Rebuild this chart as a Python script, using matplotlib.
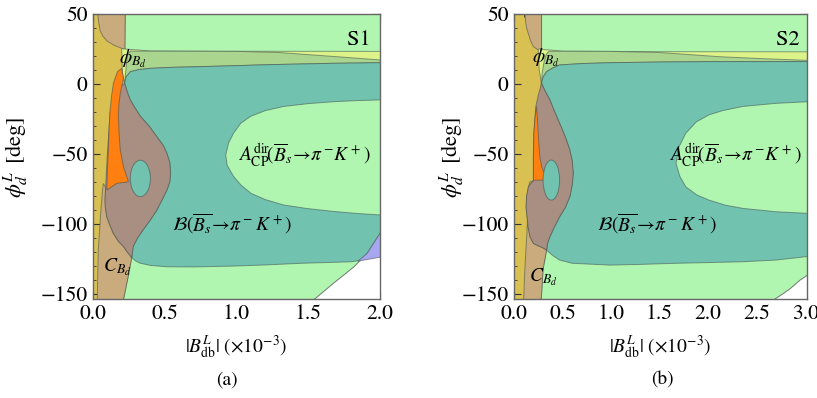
import matplotlib
matplotlib.use("Agg")
import matplotlib.pyplot as plt
from matplotlib.patches import Ellipse
from matplotlib.ticker import MultipleLocator, FormatStrFormatter

plt.rcParams['font.family'] = ['STIXGeneral', 'DejaVu Serif']
plt.rcParams['mathtext.fontset'] = 'stix'

# ---------------- colours ----------------
C_MUSTARD = '#d9c052'
C_GREEN = '#b1f6b0'
C_TAN = '#c9ab7e'
C_YELLOW = '#dcf38a'
C_OLIVE = '#a9d58e'
C_TEAL = '#72c2b0'
C_PURPLE = '#a7a7f0'
C_BROWN = '#a88f82'
C_ORANGE = '#ff8010'
C_WHITE = '#ffffff'
EDGE = (0.25, 0.3, 0.3, 0.55)

# ---------------- panel (a) data ----------------
a_xlim = (0.0, 2.0)
a_green = [(0.225, 55), (0.222, 24), (0.22, 0), (0.25, -60), (0.27, -124), (0.24, -140), (0.2, -160),
           (1.54, -160), (1.54, -154), (1.68, -142), (1.82, -130.5), (1.91, -121), (1.96, -113),
           (2.0, -106.7), (2.05, -99), (2.05, 55)]
a_tan_top = [(0.03, 55), (0.225, 55), (0.222, 24.5), (0.2, 25.5), (0.15, 27.5), (0.1, 30.5),
             (0.07, 34), (0.05, 38), (0.038, 45)]
a_yellow = [(0.2, 25.2), (0.4, 23.6), (1.0, 23.4), (2.05, 23.3), (2.05, 14), (0.22, 0.5), (0.205, 8)]
a_olive_top = [(0.235, 16), (0.24, 21), (0.26, 23.5), (0.6, 23.4), (1.0, 23.3), (1.3, 22.5),
               (1.7, 19.5), (2.05, 16.8)]
a_teal_top = [(0.22, 0.5), (0.23, 5), (0.26, 8.8), (0.32, 10.3), (0.4, 11.2), (0.55, 11.9), (0.75, 12.4),
              (1.0, 13.1), (1.22, 13.8), (1.45, 14.3), (1.68, 14.8), (2.05, 15.3)]
a_teal_bot = [(0.27, -124), (0.3, -126.5), (0.33, -128), (0.4, -129.5), (0.515, -130.5), (0.7, -130.6),
              (0.98, -130), (1.2, -129.2), (1.45, -128), (1.65, -127.4), (1.8, -126.9), (1.9, -125.5),
              (2.05, -122.8)]
a_brown_right = [(0.22, 0.5), (0.24, -6), (0.26, -11.4), (0.295, -17.5), (0.33, -23), (0.39, -30),
                 (0.445, -37.6), (0.49, -44), (0.515, -49.5), (0.535, -56), (0.54, -63.8), (0.535, -70),
                 (0.515, -75.7), (0.485, -82), (0.445, -90), (0.4, -97), (0.35, -104), (0.31, -110),
                 (0.28, -116), (0.27, -124)]
a_brown_left = [(0.27, -124), (0.24, -120), (0.212, -116), (0.175, -112), (0.142, -106.7), (0.115, -100),
                (0.096, -94.8), (0.086, -88), (0.084, -82.9), (0.088, -74), (0.1, -50), (0.12, -20),
                (0.16, -5), (0.2, -1)]
a_white = [(1.54, -160), (1.54, -154), (1.68, -142), (1.82, -130.5), (1.91, -121), (1.96, -113),
           (2.0, -106.7), (2.05, -99), (2.05, -160)]
a_purple = [(1.845, -126.5), (1.91, -121), (1.96, -113), (2.0, -106.7), (2.05, -99), (2.05, -122.8),
            (1.9, -125.5)]
a_hole = [(2.05, -11.2), (1.85, -11.8), (1.68, -12.6), (1.5, -14), (1.33, -16), (1.2, -19), (1.1, -23),
          (1.03, -28), (0.98, -35), (0.945, -42), (0.925, -50.7), (0.935, -58), (0.96, -62.5),
          (0.98, -66), (1.03, -72), (1.1, -78), (1.2, -82.5), (1.33, -86.4), (1.5, -89), (1.68, -91),
          (1.85, -92.5), (2.05, -93.8)]
a_tan_low = [(0.03, -160), (0.2, -160), (0.24, -140), (0.27, -124), (0.24, -120), (0.212, -116),
             (0.175, -112), (0.142, -106.7), (0.115, -100), (0.096, -94.8), (0.086, -88), (0.084, -82.9),
             (0.088, -74), (0.072, -71), (0.066, -76), (0.061, -82.9), (0.055, -90), (0.049, -99.5),
             (0.042, -110), (0.037, -118.6), (0.033, -135), (0.03, -152)]
a_orange = [(0.2, 11.2), (0.212, 4.1), (0.19, -6.6), (0.18, -15), (0.177, -23.4), (0.182, -36),
            (0.19, -47), (0.212, -59), (0.247, -69.8), (0.165, -71), (0.096, -75.7), (0.1, -62),
            (0.107, -47), (0.112, -32), (0.119, -18.6), (0.13, -8), (0.142, 0.5), (0.17, 8.8)]
a_small_hole = (0.33, -67.4, 0.14, 26.0)   # centre x, centre y, width, height

# ---------------- panel (b) data ----------------
b_xlim = (0.0, 3.02)
b_green = [(0.284, 55), (0.284, 24), (0.28, 0), (0.3, -60), (0.336, -118.6), (0.3, -132), (0.275, -160),
           (2.68, -160), (2.68, -154), (2.77, -150), (2.85, -146), (2.95, -140), (3.07, -134.5),
           (3.07, 55)]
b_tan_top = [(0.11, 55), (0.284, 55), (0.284, 24), (0.25, 24.3), (0.2, 26.7), (0.17, 31),
             (0.147, 36.2), (0.13, 40), (0.12, 44)]
b_yellow = [(0.25, 25), (0.5, 23.5), (1.5, 23.1), (3.07, 23.0), (3.07, 14), (0.284, 0.5), (0.26, 10)]
b_olive_top = [(0.29, 8), (0.31, 16), (0.33, 21), (0.36, 23.4), (1.0, 23.3), (1.5, 22.5),
               (2.12, 19.5), (2.6, 18.0), (3.07, 16.8)]
b_teal_top = [(0.284, 0.5), (0.3, 5), (0.336, 8.8), (0.4, 11.5), (0.47, 13.6), (0.7, 14.6), (0.99, 15.2),
              (1.5, 15.7), (2.01, 16), (3.07, 16)]
b_teal_bot = [(0.336, -118.6), (0.4, -122.5), (0.47, -125.7), (0.6, -128), (0.99, -129.3), (1.3, -128.8),
              (1.67, -128), (2.0, -127.5), (2.36, -126.9), (2.7, -125.7), (3.07, -122.8)]
b_brown_right = [(0.284, 0.5), (0.32, -5), (0.37, -11.4), (0.42, -20), (0.47, -28), (0.53, -38),
                 (0.575, -47), (0.6, -55), (0.61, -63.8), (0.6, -72), (0.575, -80.5), (0.53, -88),
                 (0.47, -94.8), (0.41, -103), (0.37, -109), (0.345, -114), (0.336, -118.6)]
b_brown_left = [(0.336, -118.6), (0.3, -117), (0.25, -115.5), (0.2, -113.8), (0.165, -109),
                (0.145, -102), (0.135, -95), (0.125, -88), (0.13, -80), (0.15, -73), (0.2, -69),
                (0.2, -52), (0.205, -35), (0.225, -16), (0.25, -8), (0.27, -3)]
b_hole = [(3.07, -12.5), (2.7, -13.8), (2.36, -16), (2.15, -19), (2.01, -22), (1.88, -27), (1.77, -35.2),
          (1.7, -45), (1.67, -56.7), (1.71, -66), (1.77, -73.3), (1.88, -79), (2.01, -82.9),
          (2.18, -86.5), (2.36, -88.8), (2.7, -91.2), (3.07, -92.5)]
b_white = [(2.68, -160), (2.68, -154), (2.77, -150), (2.85, -146), (2.95, -140), (3.07, -134.5),
           (3.07, -160)]
b_tan_low = [(0.1, -160), (0.275, -160), (0.3, -132), (0.336, -118.6), (0.3, -117), (0.25, -115.5),
             (0.2, -113.8), (0.165, -109), (0.145, -102), (0.135, -95), (0.125, -88), (0.13, -80),
             (0.15, -73), (0.2, -69), (0.16, -70), (0.15, -77), (0.145, -85), (0.138, -98),
             (0.13, -110), (0.12, -122), (0.11, -135), (0.1, -154)]
b_orange = [(0.233, -16), (0.242, -25), (0.25, -35), (0.258, -45), (0.267, -52), (0.285, -59),
            (0.3, -62), (0.32, -64), (0.32, -68.6), (0.2, -68.6), (0.2, -52), (0.205, -35), (0.215, -25)]
b_small_hole = (0.385, -68.6, 0.17, 28.6)

# ---------------- tick / label data ----------------
y_ticks = [50, 0, -50, -100, -150]
a_xticks = [0.0, 0.5, 1.0, 1.5, 2.0]
b_xticks = [0.0, 0.5, 1.0, 1.5, 2.0, 2.5, 3.0]
ylim = (-153.5, 50)

lab_acp = r'$A_{\rm CP}^{\rm dir}\!(\overline{B}_s\!\rightarrow\!\pi^-\!K^+)$'
lab_br = r'$\mathcal{B}(\overline{B_s}\!\rightarrow\!\pi^- K^+)$'
lab_phi = r'$\phi_{B_d}$'
lab_c = r'$C_{B_d}$'
a_text_pos = {'S': (1.855, 31.4), 'acp': (1.47, -50.7), 'br': (0.97, -99.5), 'phi': (0.28, 18.3),
              'c': (0.165, -130.5)}
b_text_pos = {'S': (2.82, 31.4), 'acp': (2.28, -50.7), 'br': (1.47, -99.5), 'phi': (0.33, 19.0),
              'c': (0.30, -138.0)}


def poly(ax, pts, color, z):
    xs = [p[0] for p in pts]
    ys = [p[1] for p in pts]
    ax.fill(xs, ys, facecolor=color, edgecolor=EDGE, lw=0.7, zorder=z)


def panel(ax, xlim, green, tan_top, yellow, olive_top, teal_top, teal_bot, brown_right, brown_left,
          white, hole, tan_low, orange, small_hole, purple, xticks, tp, sname):
    right = xlim[1] + 0.05
    poly(ax, [(0, -160), (right, -160), (right, 55), (0, 55)], C_MUSTARD, 1)
    poly(ax, green, C_GREEN, 2)
    poly(ax, tan_top, C_TAN, 3)
    poly(ax, yellow, C_YELLOW, 4)
    olive = olive_top + [(right, teal_top[-1][1] - 1)] + teal_top[::-1]
    poly(ax, olive, C_OLIVE, 5)
    teal = teal_top + teal_bot[::-1] + brown_right[::-1]
    poly(ax, teal, C_TEAL, 6)
    poly(ax, white, C_WHITE, 7)
    if purple is not None:
        poly(ax, purple, C_PURPLE, 8)
    poly(ax, hole, C_GREEN, 9)
    poly(ax, tan_low, C_TAN, 10)
    brown = brown_right + brown_left[1:]
    poly(ax, brown, C_BROWN, 11)
    poly(ax, orange, C_ORANGE, 12)
    cx, cy, w, h = small_hole
    ax.add_patch(Ellipse((cx, cy), w, h, facecolor=C_TEAL, edgecolor=EDGE, lw=0.7, zorder=13))

    ax.set_xlim(*xlim)
    ax.set_ylim(*ylim)
    ax.set_xticks(xticks)
    ax.set_yticks(y_ticks)
    ax.xaxis.set_minor_locator(MultipleLocator(0.1))
    ax.yaxis.set_minor_locator(MultipleLocator(10))
    ax.xaxis.set_major_formatter(FormatStrFormatter('%.1f'))
    ax.tick_params(which='both', direction='in', top=True, right=True, color='#333333')
    ax.tick_params(which='major', length=5, width=0.8, labelsize=15.5, pad=4)
    ax.tick_params(which='minor', length=2.5, width=0.6)
    for s in ax.spines.values():
        s.set_color('#666666')
        s.set_linewidth(1.0)
        s.set_zorder(20)

    fs = 14
    ax.text(*tp['S'], sname, fontsize=16, ha='center', va='center', zorder=30)
    ax.text(*tp['acp'], lab_acp, fontsize=fs, ha='center', va='center', zorder=30)
    ax.text(*tp['br'], lab_br, fontsize=fs, ha='center', va='center', zorder=30)
    ax.text(*tp['phi'], lab_phi, fontsize=fs, ha='center', va='center', zorder=30)
    ax.text(*tp['c'], lab_c, fontsize=fs, ha='center', va='center', zorder=30)


fig = plt.figure(figsize=(8.17, 3.98), dpi=100)
W, H = 817.0, 398.0
ax1 = fig.add_axes([93 / W, 1 - 299 / H, 287 / W, 285 / H])
ax2 = fig.add_axes([514 / W, 1 - 299 / H, 293 / W, 285 / H])

panel(ax1, a_xlim, a_green, a_tan_top, a_yellow, a_olive_top, a_teal_top, a_teal_bot, a_brown_right,
      a_brown_left, a_white, a_hole, a_tan_low, a_orange, a_small_hole, a_purple, a_xticks, a_text_pos, 'S1')
panel(ax2, b_xlim, b_green, b_tan_top, b_yellow, b_olive_top, b_teal_top, b_teal_bot, b_brown_right,
      b_brown_left, b_white, b_hole, b_tan_low, b_orange, b_small_hole, None, b_xticks, b_text_pos, 'S2')

xl = r'$|B^L_{\rm db}|\ (\times 10^{-3})$'
yl = r'$\phi^L_d\ \,[\mathrm{deg}]$'
fig.text(236 / W, 1 - 347 / H, xl, fontsize=14, ha='center', va='center')
fig.text(660 / W, 1 - 347 / H, xl, fontsize=14, ha='center', va='center')
fig.text(16 / W, 1 - 157 / H, yl, fontsize=16, ha='center', va='center', rotation=90)
fig.text(452 / W, 1 - 157 / H, yl, fontsize=16, ha='center', va='center', rotation=90)
fig.text(227 / W, 1 - 380 / H, '(a)', fontsize=14, ha='center', va='center')
fig.text(662 / W, 1 - 380 / H, '(b)', fontsize=14, ha='center', va='center')

fig.savefig('out.png', dpi=100)
